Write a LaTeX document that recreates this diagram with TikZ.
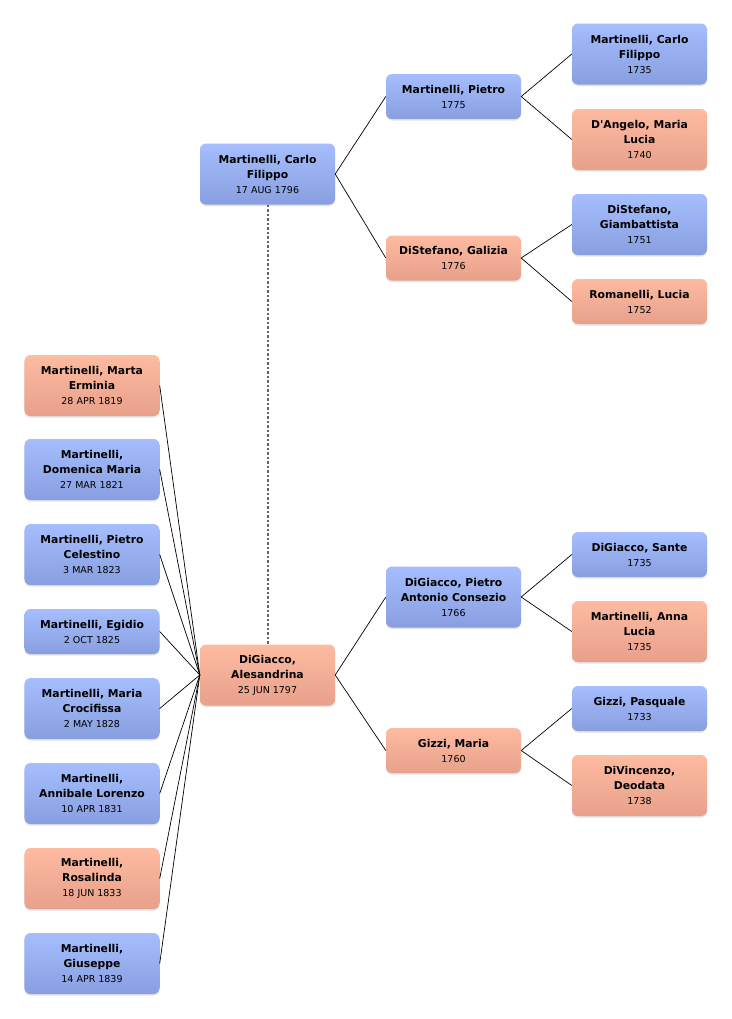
\documentclass[tikz,border=0pt]{standalone}
\usepackage{fontspec}
\setmainfont{DejaVu Sans}
\usetikzlibrary{shadows}
\definecolor{btop}{RGB}{166,190,253}
\definecolor{bbot}{RGB}{136,158,224}
\definecolor{stop}{RGB}{253,187,161}
\definecolor{sbot}{RGB}{232,160,139}
\newcommand\dt[1]{{\fontsize{9.5bp}{13bp}\selectfont\mdseries #1}}
\tikzset{
  person/.style={rounded corners=6bp, minimum width=135bp, inner sep=1bp, align=center,
    font=\fontsize{10.8bp}{15bp}\selectfont\bfseries,
    drop shadow={opacity=0.22, shadow xshift=0bp, shadow yshift=-1.5bp}},
  male/.style={person, top color=btop, bottom color=bbot},
  female/.style={person, top color=stop, bottom color=sbot},
  hone/.style={minimum height=45bp},
  htwo/.style={minimum height=61bp},
  link/.style={line width=0.7bp, black},
  spouse/.style={line width=2bp, gray!80!black, dash pattern=on 2.5bp off 2bp}
}
\begin{document}
\begin{tikzpicture}[x=1bp, y=-1bp]
\useasboundingbox[fill=white] (0,0) rectangle (732,1019);
% generation 1
\node[male, htwo] (f) at (267.5,174) {Martinelli, Carlo\\Filippo\\\dt{17 AUG 1796}};
\node[female, htwo] (m) at (267.5,675) {DiGiacco,\\Alesandrina\\\dt{25 JUN 1797}};
% generation 2
\node[male, hone] (ff) at (453.5,96.5) {Martinelli, Pietro\\\dt{1775}};
\node[female, hone] (fm) at (453.5,258) {DiStefano, Galizia\\\dt{1776}};
\node[male, htwo] (mf) at (453.5,597) {DiGiacco, Pietro\\Antonio Consezio\\\dt{1766}};
\node[female, hone] (mm) at (453.5,750.5) {Gizzi, Maria\\\dt{1760}};
% generation 3
\node[male, htwo] (fff) at (639.5,54) {Martinelli, Carlo\\Filippo\\\dt{1735}};
\node[female, htwo] (ffm) at (639.5,139.5) {D\textquotesingle Angelo, Maria\\Lucia\\\dt{1740}};
\node[male, htwo] (fmf) at (639.5,224.5) {DiStefano,\\Giambattista\\\dt{1751}};
\node[female, hone] (fmm) at (639.5,301.5) {Romanelli, Lucia\\\dt{1752}};
\node[male, hone] (mff) at (639.5,554.5) {DiGiacco, Sante\\\dt{1735}};
\node[female, htwo] (mfm) at (639.5,631.5) {Martinelli, Anna\\Lucia\\\dt{1735}};
\node[male, hone] (mmf) at (639.5,708.5) {Gizzi, Pasquale\\\dt{1733}};
\node[female, htwo] (mmm) at (639.5,785.5) {DiVincenzo,\\Deodata\\\dt{1738}};
% children
\node[female, htwo] (c1) at (92,385.5) {Martinelli, Marta\\Erminia\\\dt{28 APR 1819}};
\node[male, htwo] (c2) at (92,469.5) {Martinelli,\\Domenica Maria\\\dt{27 MAR 1821}};
\node[male, htwo] (c3) at (92,554.5) {Martinelli, Pietro\\Celestino\\\dt{3 MAR 1823}};
\node[male, hone] (c4) at (92,631.5) {Martinelli, Egidio\\\dt{2 OCT 1825}};
\node[male, htwo] (c5) at (92,708.5) {Martinelli, Maria\\Crocifissa\\\dt{2 MAY 1828}};
\node[male, htwo] (c6) at (92,793.5) {Martinelli,\\Annibale Lorenzo\\\dt{10 APR 1831}};
\node[female, htwo] (c7) at (92,878.5) {Martinelli,\\Rosalinda\\\dt{18 JUN 1833}};
\node[male, htwo] (c8) at (92,963.5) {Martinelli,\\Giuseppe\\\dt{14 APR 1839}};
% connectors
\draw[spouse] (f.south) -- (m.north);
\foreach \a/\b in {f/ff, f/fm, m/mf, m/mm, ff/fff, ff/ffm, fm/fmf, fm/fmm, mf/mff, mf/mfm, mm/mmf, mm/mmm}
  \draw[link] (\a.east) -- (\b.west);
\foreach \c in {c1,c2,c3,c4,c5,c6,c7,c8}
  \draw[link] (m.west) -- (\c.east);
\end{tikzpicture}
\end{document}
